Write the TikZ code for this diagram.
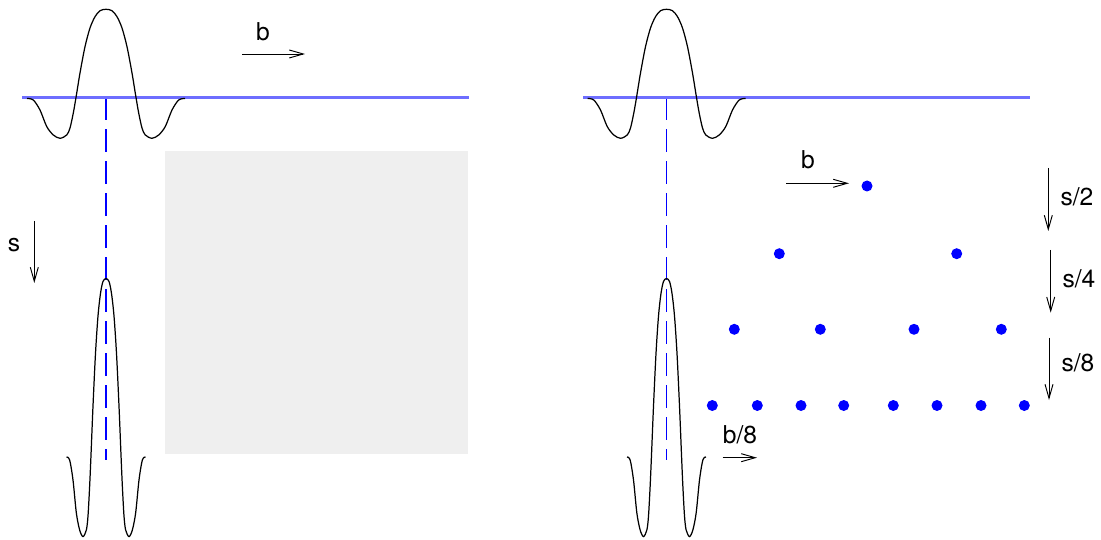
\documentclass[tikz,border=0pt]{standalone}
\usepackage{fontspec}
\setmainfont{TeX Gyre Heros}
\usepackage{xcolor}
\usepackage{tikz}
\usetikzlibrary{arrows.meta}

\definecolor{panelgray}{RGB}{239,239,239}
\definecolor{lineblue}{RGB}{110,110,255}

\begin{document}
\begin{tikzpicture}[x=0.02cm,y=-0.02cm,>={Straight Barb[length=2.8mm,width=1.6mm]},
  dot/.style={circle,fill=blue,inner sep=0pt,minimum size=0.22cm},
  lbl/.style={font=\fontsize{14}{16}\selectfont,inner sep=0pt},
  arr/.style={->,line width=0.55pt},
  zeroline/.style={lineblue,line width=1.2pt},
  guide/.style={blue,line width=0.6pt,dash pattern=on 0.46cm off 0.18cm},
  hat/.pic={
    \draw[black,line width=0.7pt] plot[smooth] coordinates {(-79,1) (-72.7,2.5) (-66,12.5) (-59.3,29) (-52.7,37.5) (-46,40.8) (-39.3,37.5) (-36,30.5) (-32.7,15.5) (-30,0) (-26,-24.5) (-21,-50.8) (-16,-69.5) (-11,-80.8) (-6,-86.8) (0,-88.2) (6,-86.8) (11,-80.8) (16,-69.5) (21,-50.8) (26,-24.5) (30,0) (32.7,15.5) (36,30.5) (39.3,37.5) (46,40.8) (52.7,37.5) (59.3,29) (66,12.5) (72.7,2.5) (79,1)};
  }]
  \useasboundingbox (0,0) rectangle (1101,540);

  % left panel
  \fill[panelgray] (165,151) rectangle (468,454);
  \coordinate (lg0) at (106,97.5);
  \coordinate (lg1) at (106,460);
  \draw[guide] (lg0) -- (lg1);
  \coordinate (lx0) at (22,97.5);
  \coordinate (lx1) at (469,97.5);
  \draw[zeroline] (lx0) -- (lx1);
  \pic (lhat) at (106,97.5) {hat};
  \pic[xscale=0.5,yscale=2] (lhats) at (106,455) {hat};
  \node[lbl] (lb) at (263,32) {b};
  \coordinate (lb0) at (242,54);
  \coordinate (lb1) at (305,54);
  \draw[arr] (lb0) -- (lb1);
  \node[lbl] (ls) at (14,245) {s};
  \coordinate (ls0) at (34.3,221);
  \coordinate (ls1) at (34.3,283);
  \draw[arr] (ls0) -- (ls1);

  % right panel
  \coordinate (rg0) at (666.5,97.5);
  \coordinate (rg1) at (666.5,460);
  \draw[guide] (rg0) -- (rg1);
  \coordinate (rx0) at (583,97.5);
  \coordinate (rx1) at (1030,97.5);
  \draw[zeroline] (rx0) -- (rx1);
  \pic (rhat) at (666.5,97.5) {hat};
  \pic[xscale=0.5,yscale=2] (rhats) at (666.5,455) {hat};

  \node[lbl] (rb) at (808,160) {b};
  \coordinate (rb0) at (786,183.3);
  \coordinate (rb1) at (849,183.3);
  \draw[arr] (rb0) -- (rb1);
  \node[lbl] (rb8) at (740,435) {b/8};
  \coordinate (rb80) at (722.7,457.7);
  \coordinate (rb81) at (757,457.7);
  \draw[arr] (rb80) -- (rb81);

  \node[dot] (d1) at (867,186) {};
  \node[dot] (d2a) at (779.3,253.7) {};
  \node[dot] (d2b) at (956.7,253.7) {};
  \node[dot] (d3a) at (734.3,329.3) {};
  \node[dot] (d3b) at (820.3,329.3) {};
  \node[dot] (d3c) at (914,329.3) {};
  \node[dot] (d3d) at (1001.3,329.3) {};
  \node[dot] (d4a) at (712.3,405.5) {};
  \node[dot] (d4b) at (757.3,405.5) {};
  \node[dot] (d4c) at (801,405.5) {};
  \node[dot] (d4d) at (843.7,405.5) {};
  \node[dot] (d4e) at (893.3,405.5) {};
  \node[dot] (d4f) at (937,405.5) {};
  \node[dot] (d4g) at (981,405.5) {};
  \node[dot] (d4h) at (1024.3,405.5) {};

  \coordinate (s20) at (1048.3,168);
  \coordinate (s21) at (1048.3,231);
  \draw[arr] (s20) -- (s21);
  \node[lbl] (s2) at (1077,197) {s/2};
  \coordinate (s40) at (1050.7,250);
  \coordinate (s41) at (1050.7,312.7);
  \draw[arr] (s40) -- (s41);
  \node[lbl] (s4) at (1079,279) {s/4};
  \coordinate (s80) at (1049,337.7);
  \coordinate (s81) at (1049,400);
  \draw[arr] (s80) -- (s81);
  \node[lbl] (s8) at (1078,363) {s/8};
\end{tikzpicture}
\end{document}
